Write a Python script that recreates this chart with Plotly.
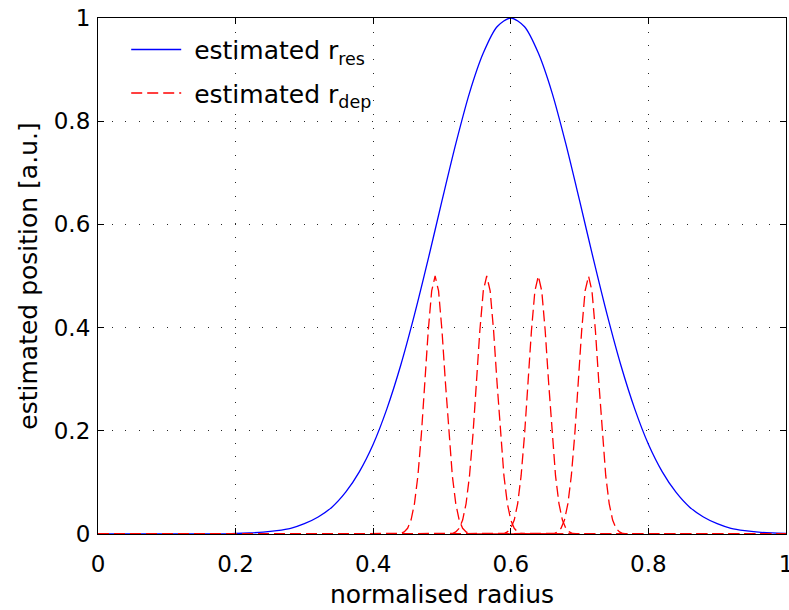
import plotly.graph_objects as go

# ---- data ----
x_res = [0.00, 0.02, 0.04, 0.06, 0.08, 0.10, 0.12, 0.14, 0.16, 0.18,
         0.20, 0.22, 0.24, 0.26, 0.28, 0.30, 0.32, 0.34, 0.36, 0.38,
         0.40, 0.42, 0.44, 0.46, 0.48, 0.50, 0.52, 0.54, 0.56, 0.58,
         0.60, 0.62, 0.64, 0.66, 0.68, 0.70, 0.72, 0.74, 0.76, 0.78,
         0.80, 0.82, 0.84, 0.86, 0.88, 0.90, 0.92, 0.94, 0.96, 0.98, 1.00]
y_res = [0.000, 0.000, 0.000, 0.000, 0.000, 0.000, 0.000, 0.000, 0.000, 0.000,
         0.001, 0.002, 0.0035, 0.0064, 0.011, 0.020, 0.033, 0.052, 0.081, 0.121,
         0.174, 0.243, 0.327, 0.425, 0.533, 0.646, 0.756, 0.855, 0.932, 0.983,
         1.000, 0.983, 0.932, 0.855, 0.756, 0.646, 0.533, 0.425, 0.327, 0.243,
         0.174, 0.121, 0.081, 0.052, 0.033, 0.020, 0.011, 0.0064, 0.0035, 0.002, 0.001]

peak_y = [0, 0, 0.001, 0.004, 0.011, 0.027, 0.059, 0.113, 0.193, 0.293, 0.394, 0.471, 0.500,
          0.471, 0.394, 0.293, 0.193, 0.113, 0.059, 0.027, 0.011, 0.004, 0.001, 0, 0]

x_dep1 = [0, 0.430, 0.440, 0.445, 0.450, 0.455, 0.460, 0.465, 0.470, 0.475, 0.480, 0.485, 0.490,
          0.495, 0.500, 0.505, 0.510, 0.515, 0.520, 0.525, 0.530, 0.535, 0.540, 0.550, 1]
x_dep2 = [0, 0.505, 0.515, 0.520, 0.525, 0.530, 0.535, 0.540, 0.545, 0.550, 0.555, 0.560, 0.565,
          0.570, 0.575, 0.580, 0.585, 0.590, 0.595, 0.600, 0.605, 0.610, 0.615, 0.625, 1]
x_dep3 = [0, 0.580, 0.590, 0.595, 0.600, 0.605, 0.610, 0.615, 0.620, 0.625, 0.630, 0.635, 0.640,
          0.645, 0.650, 0.655, 0.660, 0.665, 0.670, 0.675, 0.680, 0.685, 0.690, 0.700, 1]
x_dep4 = [0, 0.653, 0.663, 0.668, 0.673, 0.678, 0.683, 0.688, 0.693, 0.698, 0.703, 0.708, 0.713,
          0.718, 0.723, 0.728, 0.733, 0.738, 0.743, 0.748, 0.753, 0.758, 0.763, 0.773, 1]
y_dep1 = peak_y
y_dep2 = peak_y
y_dep3 = peak_y
y_dep4 = peak_y

tick_vals = [0, 0.2, 0.4, 0.6, 0.8, 1]
tick_text = ["0", "0.2", "0.4", "0.6", "0.8", "1"]

LABEL_FONT = dict(family="DejaVu Sans", size=25, color="black")
TICK_FONT = dict(family="DejaVu Sans", size=23, color="black")

fig = go.Figure()
fig.add_trace(go.Scatter(x=x_res, y=y_res, mode="lines", legendgroup="res",
                         line=dict(color="#0000ff", width=1.3, shape="spline", smoothing=0.8),
                         name="&nbsp;estimated r<sub>res</sub>"))
for i, (xs, ys) in enumerate([(x_dep1, y_dep1), (x_dep2, y_dep2), (x_dep3, y_dep3), (x_dep4, y_dep4)]):
    fig.add_trace(go.Scatter(x=xs, y=ys, mode="lines", legendgroup="dep",
                             line=dict(color="#ff0000", width=1.3, dash="11px,5px"),
                             name="&nbsp;estimated r<sub>dep</sub>", showlegend=(i == 0)))

axis_common = dict(
    range=[0, 1], tickvals=tick_vals, ticktext=tick_text, automargin=False,
    showline=True, linecolor="black", linewidth=1.2, mirror="ticks",
    ticks="inside", ticklen=6, tickwidth=1.2, tickcolor="black",
    showgrid=True, gridcolor="rgba(0,0,0,0.85)", gridwidth=1, griddash="1px,12.7px",
    zeroline=False, tickfont=TICK_FONT, ticklabeloverflow="allow",
)
fig.update_xaxes(**axis_common, ticklabelstandoff=9,
                 title=dict(text="normalised radius", font=LABEL_FONT, standoff=9))
fig.update_yaxes(**axis_common, ticklabelstandoff=2,
                 title=dict(text="estimated position [a.u.]", font=LABEL_FONT, standoff=8))

fig.update_layout(
    width=789, height=610,
    margin=dict(l=98, r=3, t=18, b=76, autoexpand=False),
    paper_bgcolor="white", plot_bgcolor="white",
    legend=dict(x=0.041, y=0.983, xanchor="left", yanchor="top",
                bgcolor="rgba(255,255,255,0)", borderwidth=0,
                font=LABEL_FONT, itemwidth=50, traceorder="grouped", tracegroupgap=8),
    showlegend=True,
)

fig.write_html("out.html")
